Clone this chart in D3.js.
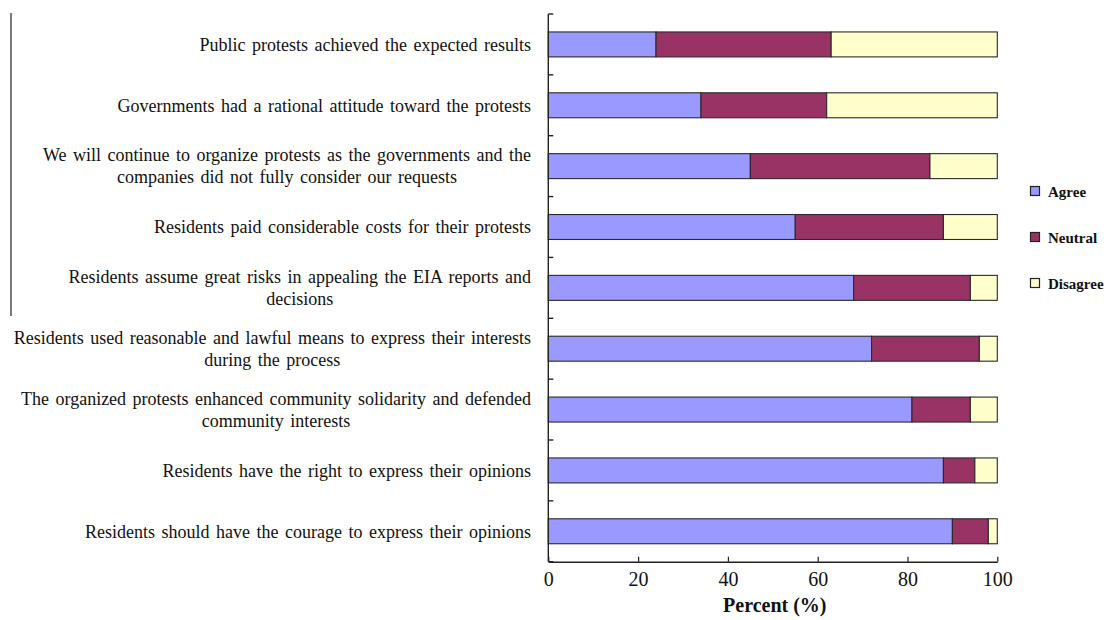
<!DOCTYPE html>
<html>
<head>
<meta charset="utf-8">
<script src="https://cdn.jsdelivr.net/npm/d3@7/dist/d3.min.js"></script>
<style>
  html, body { margin: 0; padding: 0; background: #fff; }
  svg { display: block; }
  text { font-family: "Liberation Serif", "Times New Roman", serif; fill: #111; }
</style>
</head>
<body>
<svg id="chart" width="1113" height="620"></svg>
<script>
// Survey statements (top to bottom), each split into its printed lines
const statements = [
  ["Public protests achieved the expected results"],
  ["Governments had a rational attitude toward the protests"],
  ["We will continue to organize protests as the governments and the", "companies did not fully consider our requests"],
  ["Residents paid considerable costs for their protests"],
  ["Residents assume great risks in appealing the EIA reports and", "decisions"],
  ["Residents used reasonable and lawful means to express their interests", "during the process"],
  ["The organized protests enhanced community solidarity and defended", "community interests"],
  ["Residents have the right to express their opinions"],
  ["Residents should have the courage to express their opinions"]
];

const responses = ["Agree", "Neutral", "Disagree"];

// Share of respondents (%) for each statement
const agree    = [24, 34, 45, 55, 68, 72, 81, 88, 90];
const neutral  = [39, 28, 40, 33, 26, 24, 13,  7,  8];
const disagree = [37, 38, 15, 12,  6,  4,  6,  5,  2];

const xTicks = [0, 20, 40, 60, 80, 100];
const colors = ["#9999FF", "#993366", "#FFFFCC"];

const svg = d3.select("#chart");

const x = d3.scaleLinear().domain([0, 100]).range([548.3, 997.3]);
const y = d3.scaleBand().domain(d3.range(statements.length)).range([14, 561.7]).paddingInner(0.59).paddingOuter(0.295);
const yEdges = d3.scaleLinear().domain([0, statements.length]).range([14, 561.7]);

const rows = statements.map((s, i) => ({ i, Agree: agree[i], Neutral: neutral[i], Disagree: disagree[i] }));
const stacked = d3.stack().keys(responses)(rows);
const color = d3.scaleOrdinal().domain(responses).range(colors);

// Stacked bars
svg.append("g").selectAll("g")
  .data(stacked)
  .join("g")
  .attr("fill", d => color(d.key))
  .selectAll("rect")
  .data(d => d)
  .join("rect")
  .attr("x", d => x(d[0]))
  .attr("y", d => y(d.data.i))
  .attr("width", d => x(d[1]) - x(d[0]))
  .attr("height", y.bandwidth())
  .attr("stroke", "#2a2a2a")
  .attr("stroke-width", 1.1);

// Category axis: line with inward ticks at the row boundaries
const yAxisG = svg.append("g").attr("stroke", "#222").attr("stroke-width", 1.4);
yAxisG.append("line").attr("x1", x(0)).attr("x2", x(0)).attr("y1", yEdges(0)).attr("y2", yEdges(statements.length));
yAxisG.selectAll("line.tick")
  .data(d3.range(statements.length + 1))
  .join("line")
  .attr("class", "tick")
  .attr("x1", x(0)).attr("x2", x(0) + 5)
  .attr("y1", d => yEdges(d)).attr("y2", d => yEdges(d));

// Percent axis with inward ticks
const xAxis = d3.axisBottom(x).tickValues(xTicks).tickSizeInner(-5).tickSizeOuter(0).tickPadding(10);
const xAxisG = svg.append("g")
  .attr("transform", `translate(0,${yEdges(statements.length)})`)
  .call(xAxis);
xAxisG.select(".domain").attr("stroke", "#222").attr("stroke-width", 1.4);
xAxisG.selectAll(".tick line").attr("stroke", "#222").attr("stroke-width", 1.2);
xAxisG.selectAll(".tick text")
  .style("font-family", "'Liberation Serif', serif")
  .style("font-size", "20px")
  .attr("fill", "#111");

svg.append("text")
  .attr("x", (x(0) + x(100)) / 2 + 2)
  .attr("y", 612)
  .attr("text-anchor", "middle")
  .style("font-size", "20px")
  .style("font-weight", "bold")
  .text("Percent (%)");

// Statement labels: block right-aligned, lines centred within the block
const labelRight = 531;
const lineGap = 22;
const labelG = svg.append("g").style("font-size", "18px").style("word-spacing", "2px");
statements.forEach((lines, i) => {
  const g = labelG.append("g");
  const texts = lines.map((ln, k) =>
    g.append("text")
      .attr("y", y(i) + y.bandwidth() / 2 + (k - (lines.length - 1) / 2) * lineGap)
      .attr("dy", "0.35em")
      .attr("text-anchor", "middle")
      .text(ln));
  const w = d3.max(texts, t => t.node().getBoundingClientRect().width);
  texts.forEach(t => t.attr("x", labelRight - w / 2));
});

// Thin rule at the left edge
svg.append("line")
  .attr("x1", 11).attr("x2", 11).attr("y1", 13).attr("y2", 316)
  .attr("stroke", "#222").attr("stroke-width", 1.2);

// Legend
const legend = svg.append("g");
responses.forEach((r, k) => {
  const cy = 192 + k * 46;
  legend.append("rect")
    .attr("x", 1030.5).attr("y", cy - 5.5)
    .attr("width", 9).attr("height", 9)
    .attr("fill", color(r))
    .attr("stroke", "#222").attr("stroke-width", 1.2);
  legend.append("text")
    .attr("x", 1048).attr("y", cy)
    .attr("dy", "0.35em")
    .style("font-size", "15px")
    .style("font-weight", "bold")
    .text(r);
});
</script>
</body>
</html>
